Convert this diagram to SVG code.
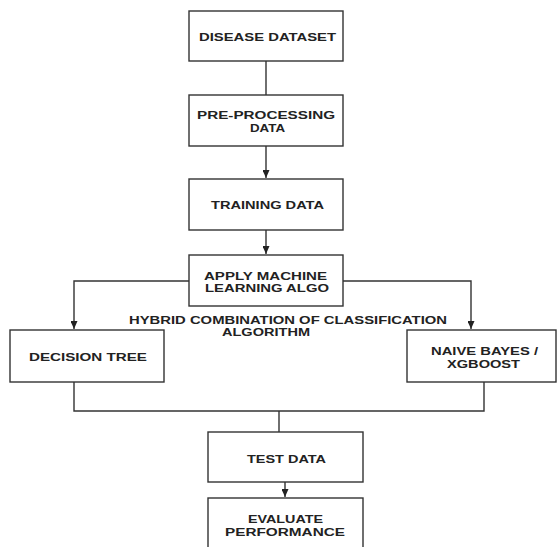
<svg xmlns="http://www.w3.org/2000/svg" width="557" height="547" viewBox="0 0 557 547">
<style>
.box{fill:#fff;stroke:#333;stroke-width:1.4}
.ln{fill:none;stroke:#333;stroke-width:1.4}
text{font-family:"Liberation Sans",Arial,sans-serif;font-size:11.5px;fill:#222;font-weight:bold}
</style>
<defs>
<marker id="ah" markerWidth="8" markerHeight="7" refX="8" refY="3.5" orient="auto" markerUnits="userSpaceOnUse">
<path d="M0,0 L8,3.5 L0,7 Z" fill="#222"/>
</marker>
</defs>
<rect width="557" height="547" fill="#fff"/>
<g id="connectors">
<path class="ln" d="M266,61 V95"/>
<path class="ln" d="M266,146 V178" marker-end="url(#ah)"/>
<path class="ln" d="M266,230 V254" marker-end="url(#ah)"/>
<path class="ln" d="M189,281 H74 V329" marker-end="url(#ah)"/>
<path class="ln" d="M343,281 H471 V329" marker-end="url(#ah)"/>
<path class="ln" d="M74,382 V411 H484 V382"/>
<path class="ln" d="M279,411 V432"/>
<path class="ln" d="M285,482 V497" marker-end="url(#ah)"/>
</g>
<g id="disease-dataset">
<rect class="box" x="189" y="11" width="154" height="50"/>
<text x="199" y="41" textLength="137" lengthAdjust="spacingAndGlyphs">DISEASE DATASET</text>
</g>
<g id="pre-processing">
<rect class="box" x="189" y="95" width="154" height="51"/>
<text x="197" y="119" textLength="138" lengthAdjust="spacingAndGlyphs">PRE-PROCESSING</text>
<text x="250" y="132" textLength="35" lengthAdjust="spacingAndGlyphs">DATA</text>
</g>
<g id="training-data">
<rect class="box" x="189" y="179" width="154" height="51"/>
<text x="211" y="209" textLength="113" lengthAdjust="spacingAndGlyphs">TRAINING DATA</text>
</g>
<g id="apply-ml">
<rect class="box" x="189" y="255" width="154" height="51"/>
<text x="204" y="280" textLength="123" lengthAdjust="spacingAndGlyphs">APPLY MACHINE</text>
<text x="205" y="292" textLength="124" lengthAdjust="spacingAndGlyphs">LEARNING ALGO</text>
</g>
<g id="hybrid-label">
<text x="129" y="323.5" textLength="318" lengthAdjust="spacingAndGlyphs">HYBRID COMBINATION OF CLASSIFICATION</text>
<text x="222" y="336" textLength="88" lengthAdjust="spacingAndGlyphs">ALGORITHM</text>
</g>
<g id="decision-tree">
<rect class="box" x="10" y="330" width="154" height="52"/>
<text x="29" y="361" textLength="118" lengthAdjust="spacingAndGlyphs">DECISION TREE</text>
</g>
<g id="naive-bayes">
<rect class="box" x="407" y="330" width="149" height="52"/>
<text x="431" y="355" textLength="107" lengthAdjust="spacingAndGlyphs">NAIVE BAYES /</text>
<text x="447" y="368" textLength="73" lengthAdjust="spacingAndGlyphs">XGBOOST</text>
</g>
<g id="test-data">
<rect class="box" x="208" y="432" width="155" height="50"/>
<text x="247" y="462.5" textLength="79" lengthAdjust="spacingAndGlyphs">TEST DATA</text>
</g>
<g id="evaluate-performance">
<rect class="box" x="208" y="498" width="155" height="60"/>
<text x="248" y="522.5" textLength="75" lengthAdjust="spacingAndGlyphs">EVALUATE</text>
<text x="225" y="535.5" textLength="120" lengthAdjust="spacingAndGlyphs">PERFORMANCE</text>
</g>
</svg>
